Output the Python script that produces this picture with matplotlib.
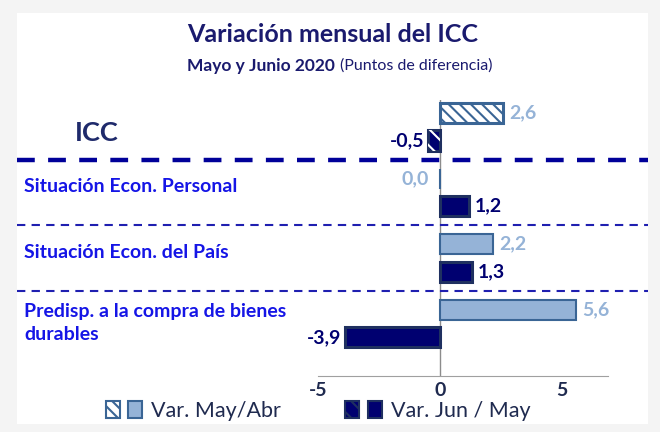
import matplotlib.pyplot as plt
from matplotlib.patches import Rectangle, Patch
from matplotlib.legend_handler import HandlerTuple
import numpy as np

categories = ["ICC", "Situación Econ. Personal", "Situación Econ. del País",
              "Predisp. a la compra de bienes\ndurables"]
may_abr = [2.6, 0.0, 2.2, 5.6]
jun_may = [-0.5, 1.2, 1.3, -3.9]
ticks = [-5, 0, 5]

LIGHT = "#95b3d7"
LIGHT_EDGE = "#3a6595"
NAVY = "#000070"
NAVY_EDGE = "#1f3060"
CAT = "#1515e6"

plt.rcParams['font.family'] = ['Lato', 'DejaVu Sans']
plt.rcParams['hatch.linewidth'] = 1.5

fig = plt.figure(figsize=(6.6, 4.32), dpi=100)
fig.patch.set_facecolor("#f4f4f4")
fig.patches.append(Rectangle((17/660, 1-424/432), (648-17)/660, (424-13)/432,
                             transform=fig.transFigure, facecolor="white",
                             edgecolor="none", zorder=-5))

W, H = 660, 432
ax = fig.add_axes([318/W, 1-376/H, (608-318)/W, (376-100)/H])
ax.set_facecolor("none")
ax.set_xlim(-4.9, 6.9)
ax.set_ylim(3.80, -0.41)

y = np.arange(len(categories))
off = 0.21
hgt = 0.31

for i in range(len(categories)):
    if i == 0:
        plt.rcParams['hatch.color'] = LIGHT
        ax.barh(y[i]-off, may_abr[i], height=hgt, color="white",
                edgecolor=LIGHT_EDGE, linewidth=2.2, hatch="\\\\\\", zorder=3)
        ax.barh(y[i]+off, jun_may[i], height=hgt, color=NAVY,
                edgecolor=NAVY_EDGE, linewidth=2.2, zorder=3)
        ax.barh(y[i]+off, jun_may[i], height=hgt, color="none",
                edgecolor="white", linewidth=0, hatch="\\\\", zorder=3)
    else:
        ax.barh(y[i]-off, may_abr[i], height=hgt, color=LIGHT,
                edgecolor=LIGHT_EDGE, linewidth=1.5, zorder=3)
        ax.barh(y[i]+off, jun_may[i], height=hgt, color=NAVY,
                edgecolor=NAVY_EDGE, linewidth=2.2, zorder=3)

def fmt(v):
    return ("%.1f" % v).replace(".", ",")

for i in range(len(categories)):
    v = may_abr[i]
    if v > 0:
        ax.text(v+0.25, y[i]-off, fmt(v), color=LIGHT, fontsize=14,
                fontweight="bold", va="center", ha="left")
    else:
        ax.text(v-0.45, y[i]-off, fmt(v), color=LIGHT, fontsize=14,
                fontweight="bold", va="center", ha="right")
    v = jun_may[i]
    if v > 0:
        ax.text(v+0.25, y[i]+off, fmt(v), color=NAVY, fontsize=14,
                fontweight="bold", va="center", ha="left")
    else:
        ax.text(v-0.15, y[i]+off, fmt(v), color=NAVY, fontsize=14,
                fontweight="bold", va="center", ha="right")

ax.axvline(0, color="#8c8c8c", lw=1, zorder=2)

# dashed separators
x0 = (17-318)/290
x1 = (648-318)/290
ax.axhline(0.5, xmin=x0, xmax=x1, color="#000099", lw=3.2, ls=(0, (4, 3)),
           clip_on=False)
for s in [1.5, 2.5]:
    ax.axhline(s, xmin=x0, xmax=x1, color="#1f1fb0", lw=1.5, ls=(0, (4, 3)),
               clip_on=False)

for sp in ["top", "right", "left"]:
    ax.spines[sp].set_visible(False)
ax.spines["bottom"].set_color("#a0a0a0")
ax.set_yticks([])
ax.set_xticks(ticks)
ax.set_xticklabels([str(t) for t in ticks])
ax.tick_params(axis="x", length=0, pad=4, labelsize=14, labelcolor="#1f2a4f")
for lb in ax.get_xticklabels():
    lb.set_fontweight("bold")

# category labels
fig.text(75/W, 1-133/H, categories[0], fontsize=19.5, fontweight="bold",
         color="#1f2a6b", va="center", ha="left")
fig.text(24/W, 1-186/H, categories[1], fontsize=14, fontweight="bold",
         color=CAT, va="center", ha="left")
fig.text(24/W, 1-253/H, categories[2], fontsize=14, fontweight="bold",
         color=CAT, va="center", ha="left")
fig.text(24/W, 1-323/H, categories[3], fontsize=14, fontweight="bold",
         color=CAT, va="center", ha="left", linespacing=1.5)

# titles
fig.text(333/W, 1-35/H, "Variación mensual del ICC", fontsize=18,
         fontweight="bold", color="#1a1a6e", ha="center", va="center")
fig.text(340/W, 1-66/H, "(Puntos de diferencia)", fontsize=11.5,
         color="#1a1a6e", ha="left", va="center")
fig.text(335/W, 1-66/H, "Mayo y Junio 2020", fontsize=12.5, fontweight="bold",
         color="#1a1a6e", ha="right", va="center")

# legend
h1a = Patch(facecolor="white", edgecolor=LIGHT_EDGE, hatch="\\\\\\", lw=1.5)
h1b = Patch(facecolor=LIGHT, edgecolor=LIGHT_EDGE, lw=1.5)
h2a = Patch(facecolor=NAVY, edgecolor=NAVY_EDGE, hatch="\\\\", lw=1.5)
h2b = Patch(facecolor=NAVY, edgecolor=NAVY_EDGE, lw=1.5)
leg = fig.legend([(h1a, h1b), (h2a, h2b)], ["Var. May/Abr", "Var. Jun / May"],
                 handler_map={tuple: HandlerTuple(ndivide=None, pad=0.4)},
                 loc="center", bbox_to_anchor=(318/W, 1-411/H), ncol=2,
                 frameon=False, fontsize=15.5, handlelength=1.7,
                 handleheight=0.8, handletextpad=0.4, columnspacing=3.0,
                 labelcolor="#1f2a4f", borderpad=0.1)

fig.savefig("out.png", dpi=100, facecolor=fig.get_facecolor())
